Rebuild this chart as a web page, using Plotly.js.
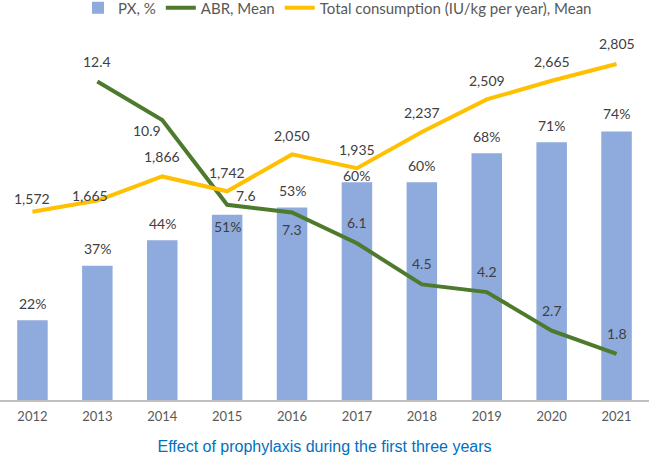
<!DOCTYPE html>
<html>
<head>
<meta charset="utf-8">
<script src="https://cdn.plot.ly/plotly-3.0.1.min.js"></script>
<style>
  html, body { margin: 0; padding: 0; background: #fff; }
  #chart { width: 649px; height: 457px; }
</style>
</head>
<body>
<div id="chart"></div>
<script>
// Valores
const years = ["2012", "2013", "2014", "2015", "2016", "2017", "2018", "2019", "2020", "2021"];
const pxPercent = [22, 37, 44, 51, 53, 60, 60, 68, 71, 74];
const abrYears = ["2013", "2014", "2015", "2016", "2017", "2018", "2019", "2020", "2021"];
const abrMean = [12.4, 10.9, 7.6, 7.3, 6.1, 4.5, 4.2, 2.7, 1.8];
const consumption = [1572, 1665, 1866, 1742, 2050, 1935, 2237, 2509, 2665, 2805];

// deslocamentos dos rótulos (px), ajustados à mão como no original
const pxShift = [17, 17, 17, -12, 17, 7, 17, 17, 17, 18];
const abrShift = [[0, 20], [-15, -11], [19, 9], [0, -17], [0, 21], [0, 21], [0, 21], [0, 20], [0, 20]];
const consShift = [[0, 13], [-7, 5], [0, 20], [0, 19], [0, 19], [0, 19], [0, 20], [0, 19], [0, 19], [0, 20]];

const labelFont = { family: "Lato, sans-serif", size: 14, color: "#404040" };
const fmt = (n) => n.toLocaleString("en-US");
// em eixo de categorias, anotações usam o índice da categoria
const catIndex = (yr) => years.indexOf(yr);

const traces = [
  {
    x: years, y: pxPercent, type: "bar", name: "PX, %",
    marker: { color: "#8FAADC" }, width: 0.47, yaxis: "y",
    hoverinfo: "none"
  },
  {
    x: abrYears, y: abrMean, type: "scatter", mode: "lines", name: "ABR, Mean",
    line: { color: "#4E7A2E", width: 4 }, yaxis: "y2", hoverinfo: "none"
  },
  {
    x: years, y: consumption, type: "scatter", mode: "lines",
    name: "Total consumption (IU/kg per year), Mean",
    line: { color: "#FFC000", width: 4 }, yaxis: "y3", hoverinfo: "none"
  }
];

const annotations = [];
years.forEach((yr, i) => {
  annotations.push({
    x: catIndex(yr), y: pxPercent[i], xref: "x", yref: "y", text: pxPercent[i] + "%",
    showarrow: false, yshift: pxShift[i], font: labelFont
  });
});
abrYears.forEach((yr, i) => {
  annotations.push({
    x: catIndex(yr), y: abrMean[i], xref: "x", yref: "y2", text: abrMean[i].toFixed(1),
    showarrow: false, xshift: abrShift[i][0], yshift: abrShift[i][1], font: labelFont
  });
});
years.forEach((yr, i) => {
  annotations.push({
    x: catIndex(yr), y: consumption[i], xref: "x", yref: "y3", text: fmt(consumption[i]),
    showarrow: false, xshift: consShift[i][0], yshift: consShift[i][1], font: labelFont
  });
});

const hiddenAxis = { showgrid: false, zeroline: false, showticklabels: false, showline: false, ticks: "" };

const layout = {
  width: 649,
  height: 457,
  margin: { l: 0, r: 0, t: 37, b: 57, autoexpand: false },
  paper_bgcolor: "#fff",
  plot_bgcolor: "#fff",
  font: { family: "Lato, sans-serif", color: "#595959" },
  showlegend: true,
  legend: {
    orientation: "h", x: 0.52, xanchor: "center",
    y: 1.08, yanchor: "middle",
    font: { size: 15, color: "#595959" }, traceorder: "normal"
  },
  xaxis: {
    type: "category", categoryorder: "array", categoryarray: years,
    range: [-0.5, years.length - 0.5], autorange: false,
    showline: true, linecolor: "#BFBFBF", linewidth: 2, ticks: "",
    showgrid: false, tickfont: { size: 13, color: "#595959" },
    ticklabelstandoff: 3, automargin: false,
    title: { text: "Effect of prophylaxis during the first three years",
             font: { family: "Liberation Sans, Arial, sans-serif", size: 16, color: "#0070C0" },
             standoff: 18 }
  },
  yaxis: Object.assign({ range: [0, 100] }, hiddenAxis),
  yaxis2: Object.assign({ range: [0, 14.13], overlaying: "y" }, hiddenAxis),
  yaxis3: Object.assign({ range: [0, 3030], overlaying: "y" }, hiddenAxis),
  annotations: annotations
};

Plotly.newPlot("chart", traces, layout, { displayModeBar: false, staticPlot: true });
</script>
</body>
</html>
